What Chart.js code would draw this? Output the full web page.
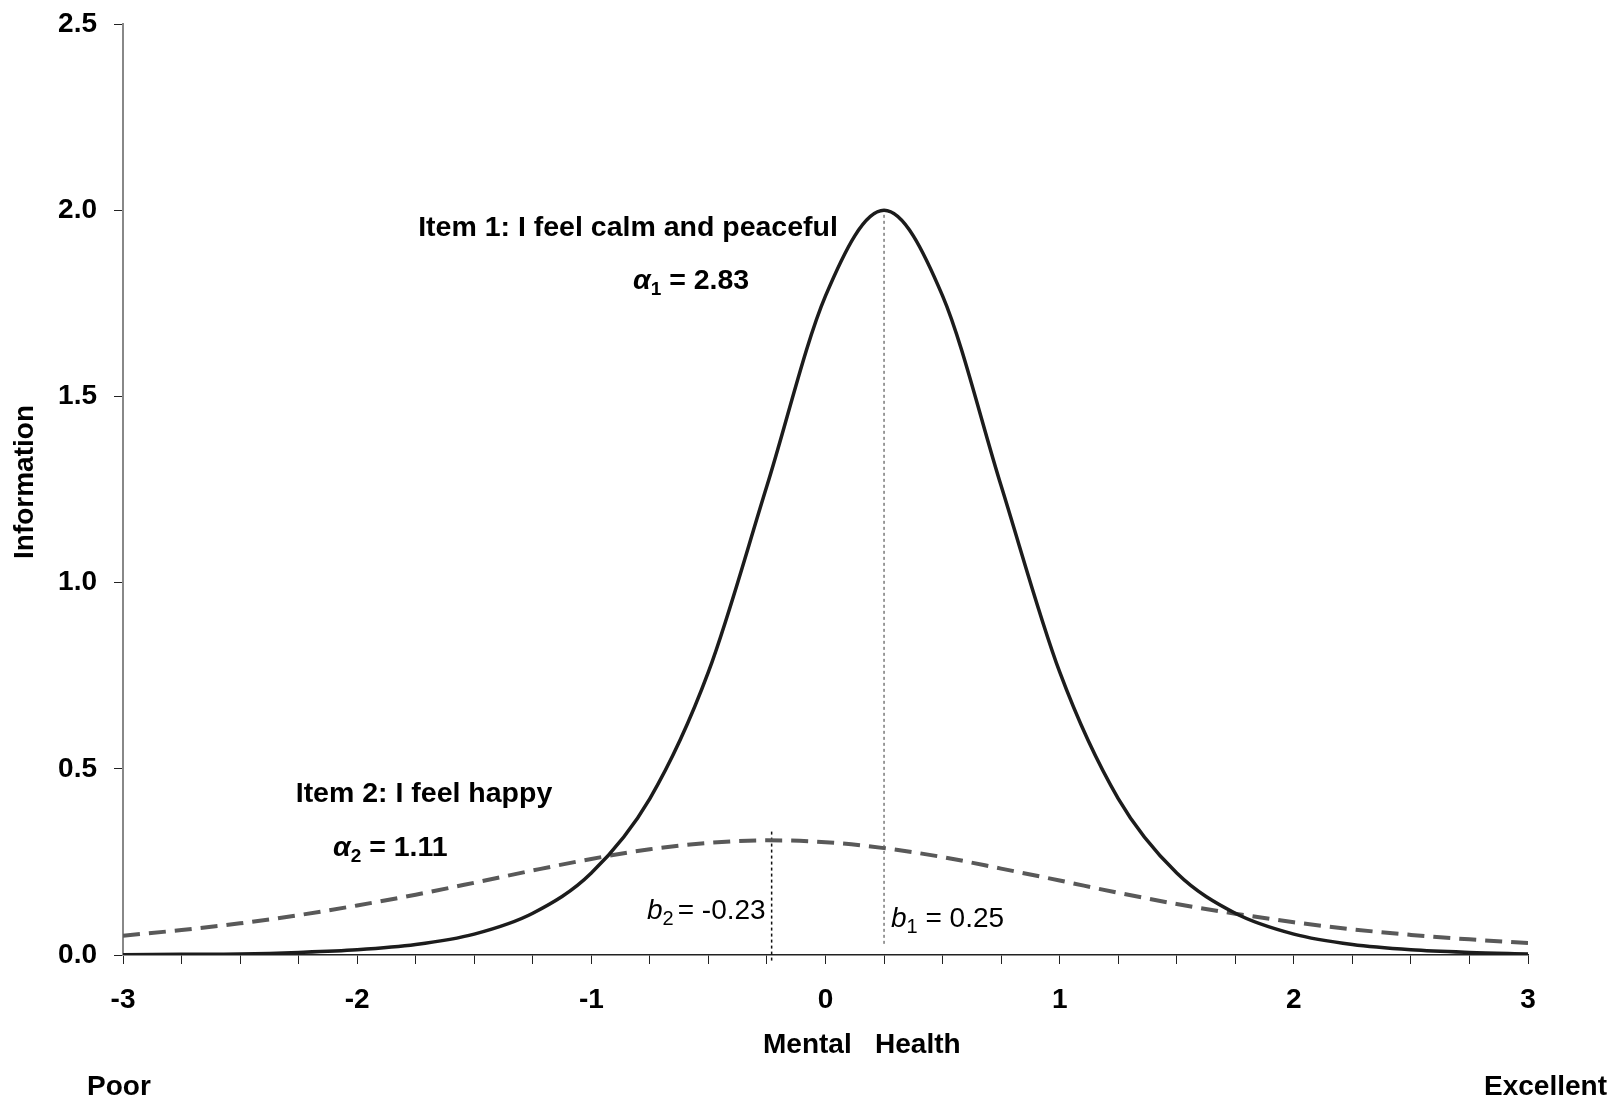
<!DOCTYPE html>
<html>
<head>
<meta charset="utf-8">
<title>Item information curves</title>
<script src="https://cdn.jsdelivr.net/npm/chart.js@4.4.1/dist/chart.umd.min.js"></script>
<style>
  html, body { margin: 0; padding: 0; background: #ffffff; }
  canvas { display: block; }
</style>
</head>
<body>
<canvas id="infoChart" width="1621" height="1098"></canvas>
<script>
// Mental health level (theta) where each curve is sampled
const theta = [-3, -2.75, -2.5, -2.25, -2, -1.75, -1.5, -1.25, -1, -0.75, -0.5, -0.25,
               0, 0.25, 0.5, 0.75, 1, 1.25, 1.5, 1.75, 2, 2.25, 2.5, 2.75, 3];

// Item 1: I feel calm and peaceful (solid)
const item1Info = [0.001, 0.002, 0.003, 0.007, 0.014, 0.028, 0.056, 0.112, 0.22, 0.42, 0.76, 1.26,
                   1.77, 2.0, 1.77, 1.26, 0.76, 0.42, 0.22, 0.112, 0.056, 0.028, 0.014, 0.007, 0.003];

// Item 2: I feel happy (dashed)
const item2Info = [0.052, 0.067, 0.085, 0.107, 0.133, 0.162, 0.194, 0.227, 0.258, 0.284, 0.301, 0.308,
                   0.303, 0.287, 0.263, 0.232, 0.2, 0.167, 0.137, 0.111, 0.088, 0.069, 0.054, 0.042, 0.032];

// Location parameters and the vertical guides drawn at them
const b1 = 0.25;
const b2 = -0.23;
const b1Guide = [0.03, 2.0];
const b2Guide = [-0.015, 0.335];

// Axis ticks
const xLabelTicks = [-3, -2, -1, 0, 1, 2, 3];
const yTicks = [0, 0.5, 1.0, 1.5, 2.0, 2.5];

const FONT = '"Liberation Sans", Arial, Helvetica, sans-serif';

// draw a run of text pieces (for subscripts / italics) starting at x
function drawRich(ctx, x, y, parts) {
    ctx.textAlign = 'left';
    ctx.textBaseline = 'alphabetic';
    parts.forEach(p => {
        ctx.font = p.font + ' ' + FONT;
        ctx.fillText(p.text, x, y + (p.dy || 0));
        x += ctx.measureText(p.text).width + (p.gap || 0);
    });
}

const textPlugin = {
    id: 'curveText',
    afterDraw(chart) {
        const ctx = chart.ctx;
        ctx.save();
        ctx.fillStyle = '#000000';

        ctx.font = 'bold 28.5px ' + FONT;
        ctx.textBaseline = 'alphabetic';
        ctx.textAlign = 'center';
        ctx.fillText('Item 1: I feel calm and peaceful', 628, 236);
        ctx.fillText('Item 2: I feel happy', 424, 802);

        drawRich(ctx, 633, 289, [
            { text: 'α', font: 'italic bold 28.5px' },
            { text: '1', font: 'bold 19px', dy: 6 },
            { text: ' = 2.83', font: 'bold 28.5px' }
        ]);
        drawRich(ctx, 333, 856, [
            { text: 'α', font: 'italic bold 28.5px' },
            { text: '2', font: 'bold 19px', dy: 6 },
            { text: ' = 1.11', font: 'bold 28.5px' }
        ]);

        drawRich(ctx, 647, 919, [
            { text: 'b', font: 'italic 28px' },
            { text: '2', font: '20px', dy: 6, gap: 4 },
            { text: '= -0.23', font: '28px' }
        ]);
        drawRich(ctx, 891, 927, [
            { text: 'b', font: 'italic 28px' },
            { text: '1', font: '20px', dy: 6 },
            { text: ' = 0.25', font: '28px' }
        ]);

        // axis titles and scale ends
        ctx.font = 'bold 28px ' + FONT;
        ctx.textAlign = 'left';
        ctx.fillText('Mental   Health', 763, 1053);
        ctx.fillText('Poor', 87, 1095);
        ctx.textAlign = 'right';
        ctx.fillText('Excellent', 1607, 1095);

        ctx.translate(33, 482);
        ctx.rotate(-Math.PI / 2);
        ctx.textAlign = 'center';
        ctx.fillText('Information', 0, 0);
        ctx.restore();
    }
};

const ctx = document.getElementById('infoChart').getContext('2d');

new Chart(ctx, {
    type: 'line',
    data: {
        datasets: [
            {
                label: 'Item 1',
                data: theta.map((t, i) => ({ x: t, y: item1Info[i] })),
                borderColor: '#1c1c1c',
                borderWidth: 3.5,
                pointRadius: 0,
                cubicInterpolationMode: 'monotone',
                fill: false
            },
            {
                label: 'Item 2',
                data: theta.map((t, i) => ({ x: t, y: item2Info[i] })),
                borderColor: '#595959',
                borderWidth: 4,
                borderDash: [17, 9],
                pointRadius: 0,
                cubicInterpolationMode: 'monotone',
                fill: false
            },
            {
                label: 'b1',
                data: b1Guide.map(v => ({ x: b1, y: v })),
                borderColor: '#7a7a7a',
                borderWidth: 1.5,
                borderDash: [3, 3],
                pointRadius: 0
            },
            {
                label: 'b2',
                data: b2Guide.map(v => ({ x: b2, y: v })),
                borderColor: '#111111',
                borderWidth: 1.5,
                borderDash: [3, 3],
                pointRadius: 0,
                clip: false
            }
        ]
    },
    options: {
        responsive: false,
        animation: false,
        layout: {
            autoPadding: false,
            padding: { left: 0, right: 93, top: 22, bottom: 0 }
        },
        plugins: {
            legend: { display: false },
            tooltip: { enabled: false }
        },
        scales: {
            x: {
                type: 'linear',
                min: -3,
                max: 3,
                afterFit: s => { s.height = 143; },
                afterBuildTicks: s => {
                    const ticks = [];
                    for (let i = 0; i <= 24; i++) ticks.push({ value: -3 + i * 0.25 });
                    s.ticks = ticks;
                },
                ticks: {
                    autoSkip: false,
                    maxRotation: 0,
                    padding: 19,
                    color: '#000000',
                    font: { family: FONT, size: 28, weight: 'bold' },
                    callback: v => xLabelTicks.includes(v) ? String(v) : ''
                },
                grid: {
                    drawOnChartArea: false,
                    tickLength: 9,
                    tickColor: '#222222',
                    tickWidth: 1
                },
                border: { color: '#222222', width: 1.5 }
            },
            y: {
                min: 0,
                max: 2.5,
                afterFit: s => { s.width = 123; },
                afterBuildTicks: s => { s.ticks = yTicks.map(v => ({ value: v })); },
                ticks: {
                    padding: 17,
                    color: '#000000',
                    // small lineHeight keeps the top label from pushing the plot down
                    font: { family: FONT, size: 28, weight: 'bold', lineHeight: 0.5 },
                    callback: v => v.toFixed(1)
                },
                grid: {
                    drawOnChartArea: false,
                    tickLength: 9,
                    tickColor: '#222222',
                    tickWidth: 1
                },
                border: { color: '#888888', width: 2 }
            }
        }
    },
    plugins: [textPlugin]
});
</script>
</body>
</html>
